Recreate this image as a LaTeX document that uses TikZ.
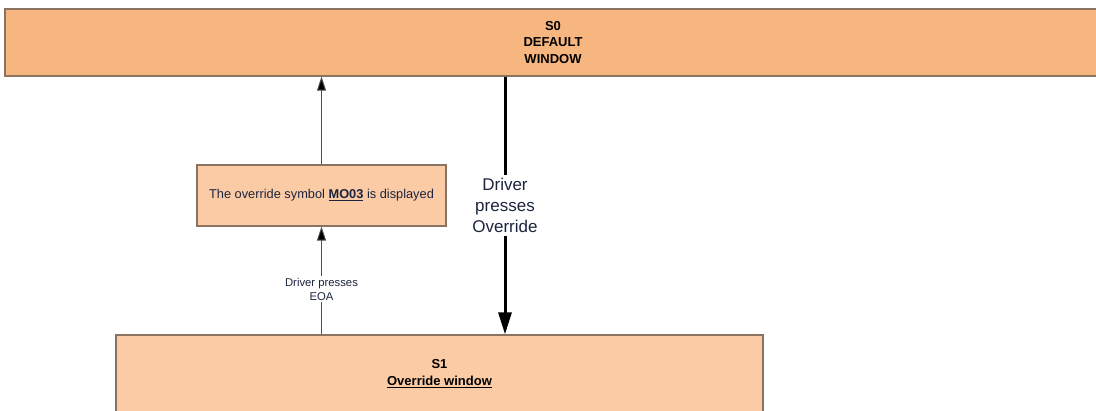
\documentclass[tikz,border=0pt]{standalone}
\usepackage{fontspec}
\setmainfont{Liberation Sans}
\usetikzlibrary{arrows.meta,calc}

\definecolor{statedark}{RGB}{247,181,128}
\definecolor{statelight}{RGB}{250,203,165}
\definecolor{boxedge}{RGB}{138,115,96}
\definecolor{labelink}{RGB}{28,36,62}

\tikzset{
  x=1pt, y=-1pt,
  statebox/.style={draw=boxedge, line width=1.3pt, inner sep=0pt, align=center,
    font=\bfseries\fontsize{13}{16.5}\selectfont},
  notebox/.style={draw=boxedge, line width=1.1pt, fill=statelight, inner sep=0pt,
    align=center, text=labelink, font=\fontsize{12.8}{15}\selectfont},
  thinarrow/.style={draw={rgb,255:red,80;green,80;blue,80}, line width=0.9pt,
    -{Triangle[length=14pt,width=9pt,fill=black]}},
  thickarrow/.style={draw=black, line width=3pt,
    -{Triangle[length=22pt,width=13pt]}},
  smalllabel/.style={fill=white, inner sep=2pt, align=center, text=labelink,
    font=\fontsize{11.3}{14}\selectfont},
  biglabel/.style={fill=white, inner sep=3pt, align=center, text=labelink,
    font=\fontsize{17}{21}\selectfont},
}

\begin{document}
\begin{tikzpicture}
\useasboundingbox (0,0) rectangle (1096,411);
\clip (0,0) rectangle (1096,411);

% states
\node[statebox, fill=statedark, minimum width=1096pt, minimum height=67pt]
  (s0) at (553,42.5) {S0\\DEFAULT\\WINDOW};
\node[statebox, fill=statelight, minimum width=647pt, minimum height=78pt,
  font=\bfseries\fontsize{13}{17}\selectfont]
  (s1) at (439.5,374) {S1\\\underline{Override window}};

% displayed symbol
\node[notebox, minimum width=249pt, minimum height=61pt]
  (msg) at (321.5,195.5) {The override symbol \textbf{\underline{MO03}} is displayed};

% transitions
\coordinate (ov) at (505,0);
\draw[thickarrow] (s0.south -| ov) -- node[biglabel, pos=0.5] {Driver\\presses\\Override} (s1.north -| ov);

\draw[thinarrow] (s1.north -| msg.south) -- node[smalllabel, pos=0.42] {Driver presses\\EOA} (msg.south);
\draw[thinarrow] (msg.north) -- (s0.south -| msg.north);
\end{tikzpicture}
\end{document}
